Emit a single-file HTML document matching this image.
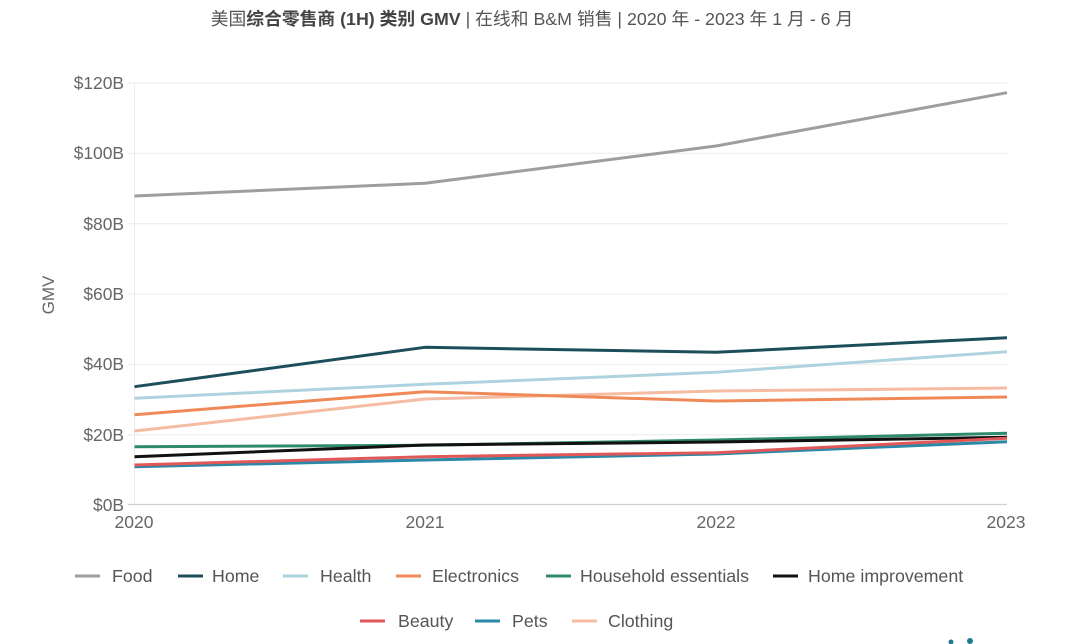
<!DOCTYPE html>
<html><head><meta charset="utf-8"><style>
html,body{margin:0;padding:0;background:#fff;}
svg{display:block;}
text{font-family:"Liberation Sans","Noto Sans CJK SC",sans-serif;}
</style></head><body>
<svg width="1080" height="644" viewBox="0 0 1080 644" xmlns="http://www.w3.org/2000/svg">
<text x="532" y="25" text-anchor="middle" font-size="17.8" fill="#555">美国<tspan font-weight="bold" fill="#444">综合零售商 (1H) 类别 GMV</tspan> | 在线和 B&amp;M 销售 | 2020 年 - 2023 年 1 月 - 6 月</text>
<g stroke="#ececec" stroke-width="1">
<line x1="128" y1="83" x2="1007" y2="83"/>
<line x1="128" y1="153.3" x2="1007" y2="153.3"/>
<line x1="128" y1="223.7" x2="1007" y2="223.7"/>
<line x1="128" y1="294" x2="1007" y2="294"/>
<line x1="128" y1="364.3" x2="1007" y2="364.3"/>
<line x1="128" y1="434.7" x2="1007" y2="434.7"/>
<line x1="134.5" y1="83" x2="134.5" y2="504.5"/>
</g>
<line x1="128" y1="504.5" x2="1007" y2="504.5" stroke="#cfcfcf" stroke-width="1.2"/>
<g font-size="17.4" fill="#666" text-anchor="end">
<text x="124" y="89">$120B</text>
<text x="124" y="159">$100B</text>
<text x="124" y="230">$80B</text>
<text x="124" y="300">$60B</text>
<text x="124" y="370">$40B</text>
<text x="124" y="441">$20B</text>
<text x="124" y="511">$0B</text>
</g>
<text transform="translate(54,295) rotate(-90)" text-anchor="middle" font-size="17" fill="#666">GMV</text>
<g font-size="17.5" fill="#666" text-anchor="middle">
<text x="134" y="528">2020</text>
<text x="425" y="528">2021</text>
<text x="716" y="528">2022</text>
<text x="1006" y="528">2023</text>
</g>
<g fill="none" stroke-width="3" stroke-linejoin="round">
<polyline stroke="#9e9e9e" points="134.5,196 425,183.3 716,146 1007,92.7"/>
<polyline stroke="#1d4e5b" points="134.5,386.7 425,347.3 716,352.3 1007,337.7"/>
<polyline stroke="#aed3de" points="134.5,398.3 425,384.3 716,372.3 1007,351.7"/>
<polyline stroke="#f5bca3" points="134.5,431 425,399 716,391 1007,388"/>
<polyline stroke="#ef8a58" points="134.5,414.7 425,391.7 716,401 1007,397"/>
<polyline stroke="#2e8a6c" points="134.5,446.7 425,445.3 716,440 1007,433.3"/>
<polyline stroke="#111" points="134.5,456.7 425,445 716,442 1007,437.3"/>
<polyline stroke="#2b88a6" points="134.5,466.7 425,460 716,454 1007,441.7"/>
<polyline stroke="#e05858" points="134.5,465 425,456.7 716,452.7 1007,438.3"/>
</g>
<g stroke-width="3">
<line x1="75" y1="576" x2="100" y2="576" stroke="#9e9e9e"/>
<line x1="178" y1="576" x2="203" y2="576" stroke="#1d4e5b"/>
<line x1="283" y1="576" x2="308" y2="576" stroke="#aed3de"/>
<line x1="396" y1="576" x2="421" y2="576" stroke="#ef8a58"/>
<line x1="546" y1="576" x2="571" y2="576" stroke="#2e8a6c"/>
<line x1="773" y1="576" x2="798" y2="576" stroke="#111"/>
<line x1="360" y1="621" x2="385" y2="621" stroke="#e05858"/>
<line x1="475" y1="621" x2="500" y2="621" stroke="#2b88a6"/>
<line x1="572" y1="621" x2="597" y2="621" stroke="#f5bca3"/>
</g>
<g font-size="17.8" fill="#555">
<text x="112" y="582">Food</text>
<text x="212" y="582">Home</text>
<text x="320" y="582">Health</text>
<text x="432" y="582">Electronics</text>
<text x="580" y="582">Household essentials</text>
<text x="808" y="582">Home improvement</text>
<text x="398" y="627">Beauty</text>
<text x="512" y="627">Pets</text>
<text x="608" y="627">Clothing</text>
</g>
<g fill="#1e7a93">
<circle cx="951" cy="642" r="2.5"/>
<circle cx="970" cy="641" r="3"/>
</g>
</svg>
</body></html>
